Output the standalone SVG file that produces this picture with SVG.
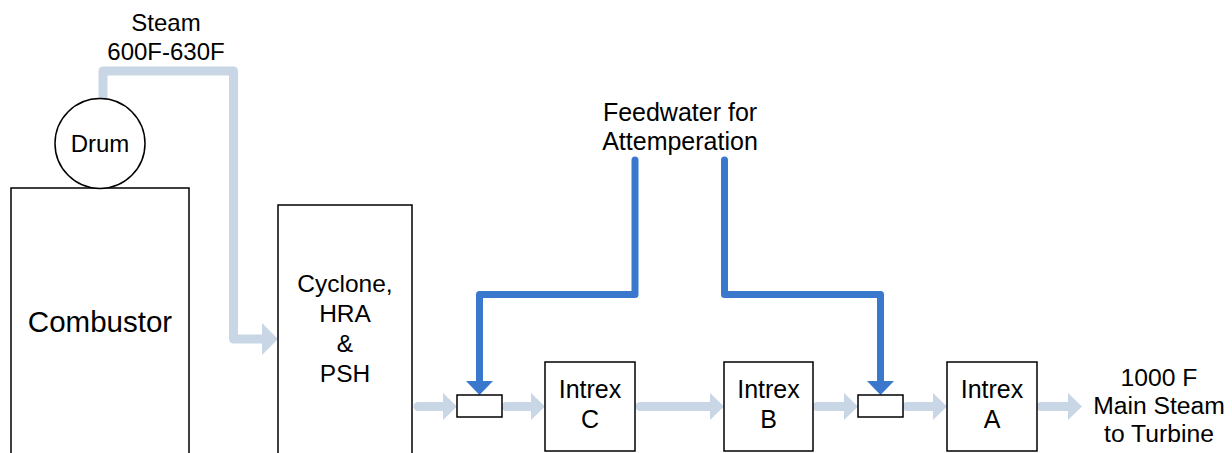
<svg xmlns="http://www.w3.org/2000/svg" width="1232" height="453" viewBox="0 0 1232 453">
<style>
.box{fill:#fff;stroke:#000;stroke-width:1.5}
.t{font-family:"Liberation Sans",Arial,sans-serif;fill:#000;text-anchor:middle;font-size:24px}
.steam{fill:none;stroke:#C8D6E6;stroke-width:9;stroke-linecap:round;stroke-linejoin:round}
.steamhead{fill:#C8D6E6}
.fw{fill:none;stroke:#3A78CE;stroke-width:7;stroke-linecap:round;stroke-linejoin:round}
.fwhead{fill:#3A78CE}
</style>
<rect width="1232" height="453" fill="#fff"/>
<g id="connectors">
  <path class="steam" d="M103 102 V71 H233.5 V339 H262"/>
  <polygon class="steamhead" points="262,323 278,339 262,355"/>
  <path class="steam" d="M418 406.5 H443"/>
  <polygon class="steamhead" points="443,393 457,406.5 443,420"/>
  <path class="steam" d="M506 406.5 H531"/>
  <polygon class="steamhead" points="531,393 545,406.5 531,420"/>
  <path class="steam" d="M640 406.5 H710"/>
  <polygon class="steamhead" points="710,393 724,406.5 710,420"/>
  <path class="steam" d="M817 406.5 H844"/>
  <polygon class="steamhead" points="844,393 858,406.5 844,420"/>
  <path class="steam" d="M907 406.5 H933"/>
  <polygon class="steamhead" points="933,393 947,406.5 933,420"/>
  <path class="steam" d="M1041 406.5 H1068"/>
  <polygon class="steamhead" points="1068,393 1082,406.5 1068,420"/>
  <path class="fw" d="M635 160 V294.5 H479.5 V381"/>
  <polygon class="fwhead" points="466,381 493,381 479.5,395"/>
  <path class="fw" d="M724.5 160 V294.5 H880.5 V381"/>
  <polygon class="fwhead" points="867,381 894,381 880.5,395"/>
</g>
<g id="combustor">
  <rect class="box" x="11" y="188" width="178" height="270"/>
  <text class="t" x="100" y="332" style="font-size:29.5px">Combustor</text>
</g>
<g id="drum">
  <circle class="box" cx="100" cy="143.5" r="45"/>
  <text class="t" x="100" y="152">Drum</text>
</g>
<g id="steam-label">
  <text class="t" x="166" y="31">Steam</text>
  <text class="t" x="166" y="60">600F-630F</text>
</g>
<g id="cyclone">
  <rect class="box" x="278" y="205" width="134" height="253"/>
  <text class="t" x="345" y="292" style="font-size:24.5px">Cyclone,</text>
  <text class="t" x="345" y="322" style="font-size:24.5px">HRA</text>
  <text class="t" x="345" y="352" style="font-size:24.5px">&amp;</text>
  <text class="t" x="345" y="382" style="font-size:24.5px">PSH</text>
</g>
<g id="attemperator1">
  <rect class="box" x="457" y="395" width="45" height="22"/>
</g>
<g id="intrex-c">
  <rect class="box" x="545" y="362" width="90" height="89"/>
  <text class="t" x="590" y="398" style="font-size:25px">Intrex</text>
  <text class="t" x="590" y="428" style="font-size:25px">C</text>
</g>
<g id="intrex-b">
  <rect class="box" x="724" y="362" width="89" height="89"/>
  <text class="t" x="768.5" y="398" style="font-size:25px">Intrex</text>
  <text class="t" x="768.5" y="428" style="font-size:25px">B</text>
</g>
<g id="attemperator2">
  <rect class="box" x="858" y="395" width="45" height="22"/>
</g>
<g id="intrex-a">
  <rect class="box" x="947" y="362" width="90" height="89"/>
  <text class="t" x="992" y="398" style="font-size:25px">Intrex</text>
  <text class="t" x="992" y="428" style="font-size:25px">A</text>
</g>
<g id="feedwater-label">
  <text class="t" x="680" y="121" style="font-size:25px">Feedwater for</text>
  <text class="t" x="680" y="150" style="font-size:25px">Attemperation</text>
</g>
<g id="output-label">
  <text class="t" x="1159" y="386" style="font-size:24.7px">1000 F</text>
  <text class="t" x="1159" y="414" style="font-size:24.7px">Main Steam</text>
  <text class="t" x="1159" y="442" style="font-size:24.7px">to Turbine</text>
</g>
</svg>
